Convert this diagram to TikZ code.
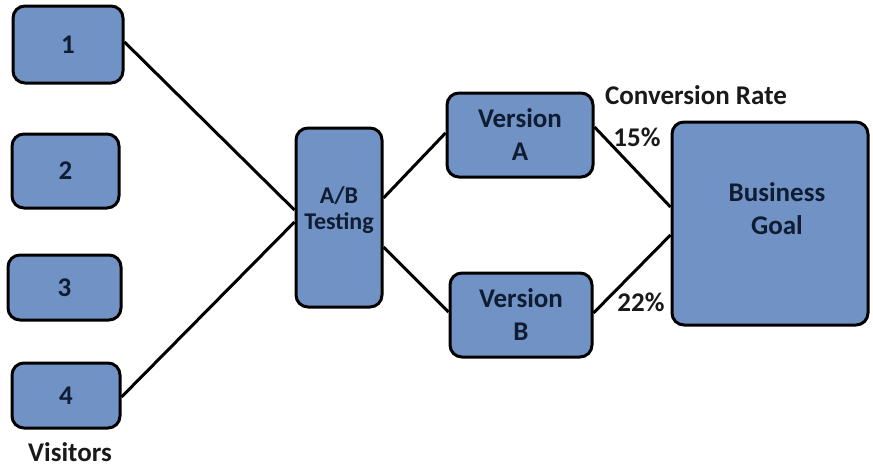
\documentclass[tikz,border=0pt]{standalone}
\usepackage{fontspec}
\setmainfont{Carlito}
\definecolor{boxfill}{RGB}{112,146,196}
\definecolor{boxtext}{RGB}{16,28,50}
\definecolor{lbltext}{RGB}{25,25,25}
\begin{document}
\begin{tikzpicture}[x=1pt,y=-1pt,
  box/.style={draw=black, line width=3pt, fill=boxfill, rounded corners=12pt,
    text=boxtext, font=\fontsize{27}{33}\selectfont\bfseries, align=center, inner sep=0pt},
  boxlabel/.style={text=boxtext, font=\fontsize{27}{33}\selectfont\bfseries, align=center, inner sep=0pt},
  conn/.style={line width=3pt, draw=black},
  lbl/.style={text=lbltext, font=\fontsize{27}{30}\selectfont\bfseries, inner sep=0pt}]
\useasboundingbox (0,0) rectangle (873,469);
% visitor boxes
\node[box, minimum width=110pt, minimum height=77pt] (b1) at (68,44.5) {1};
\node[box, minimum width=107pt, minimum height=74pt] (b2) at (65.5,171) {2};
\node[box, minimum width=113pt, minimum height=65pt] (b3) at (64.5,287.5) {3};
\node[box, minimum width=108pt, minimum height=65pt] (b4) at (66,395.5) {4};
% A/B testing
\node[box, minimum width=86pt, minimum height=179pt,
  label={[boxlabel, font=\fontsize{24}{26}\selectfont\bfseries, yshift=7pt]center:A/B\\Testing}] (ab) at (339,217.5) {};
% versions
\node[box, minimum width=146pt, minimum height=84pt] (va) at (520,135) {Version\\A};
\node[box, minimum width=142pt, minimum height=84pt] (vb) at (521,315) {Version\\B};
% business goal
\node[box, minimum width=196pt, minimum height=203pt,
  label={[boxlabel, yshift=15pt, xshift=7pt]center:Business\\Goal}] (bg) at (770,223.5) {};
% connectors
\draw[conn] ([yshift=2.5pt]b1.east) -- ([yshift=7.5pt]ab.west);
\draw[conn] ([yshift=-1.5pt]b4.east) -- ([yshift=-4.5pt]ab.west);
\draw[conn] ([yshift=19.5pt]ab.east) -- ([yshift=2pt]va.west);
\draw[conn] ([yshift=-29.5pt]ab.east) -- ([yshift=3pt]vb.west);
\draw[conn] ([yshift=8pt]va.east) -- ([yshift=16.5pt]bg.west);
\draw[conn] ([yshift=2pt]vb.east) -- ([yshift=-11.5pt]bg.west);
% labels
\node[lbl] (visitors) at (70,452) {Visitors};
\node[lbl] (conv) at (696,95) {Conversion Rate};
\node[lbl] (p15) at (637,137) {15\%};
\node[lbl] (p22) at (641,302) {22\%};
\end{tikzpicture}
\end{document}
